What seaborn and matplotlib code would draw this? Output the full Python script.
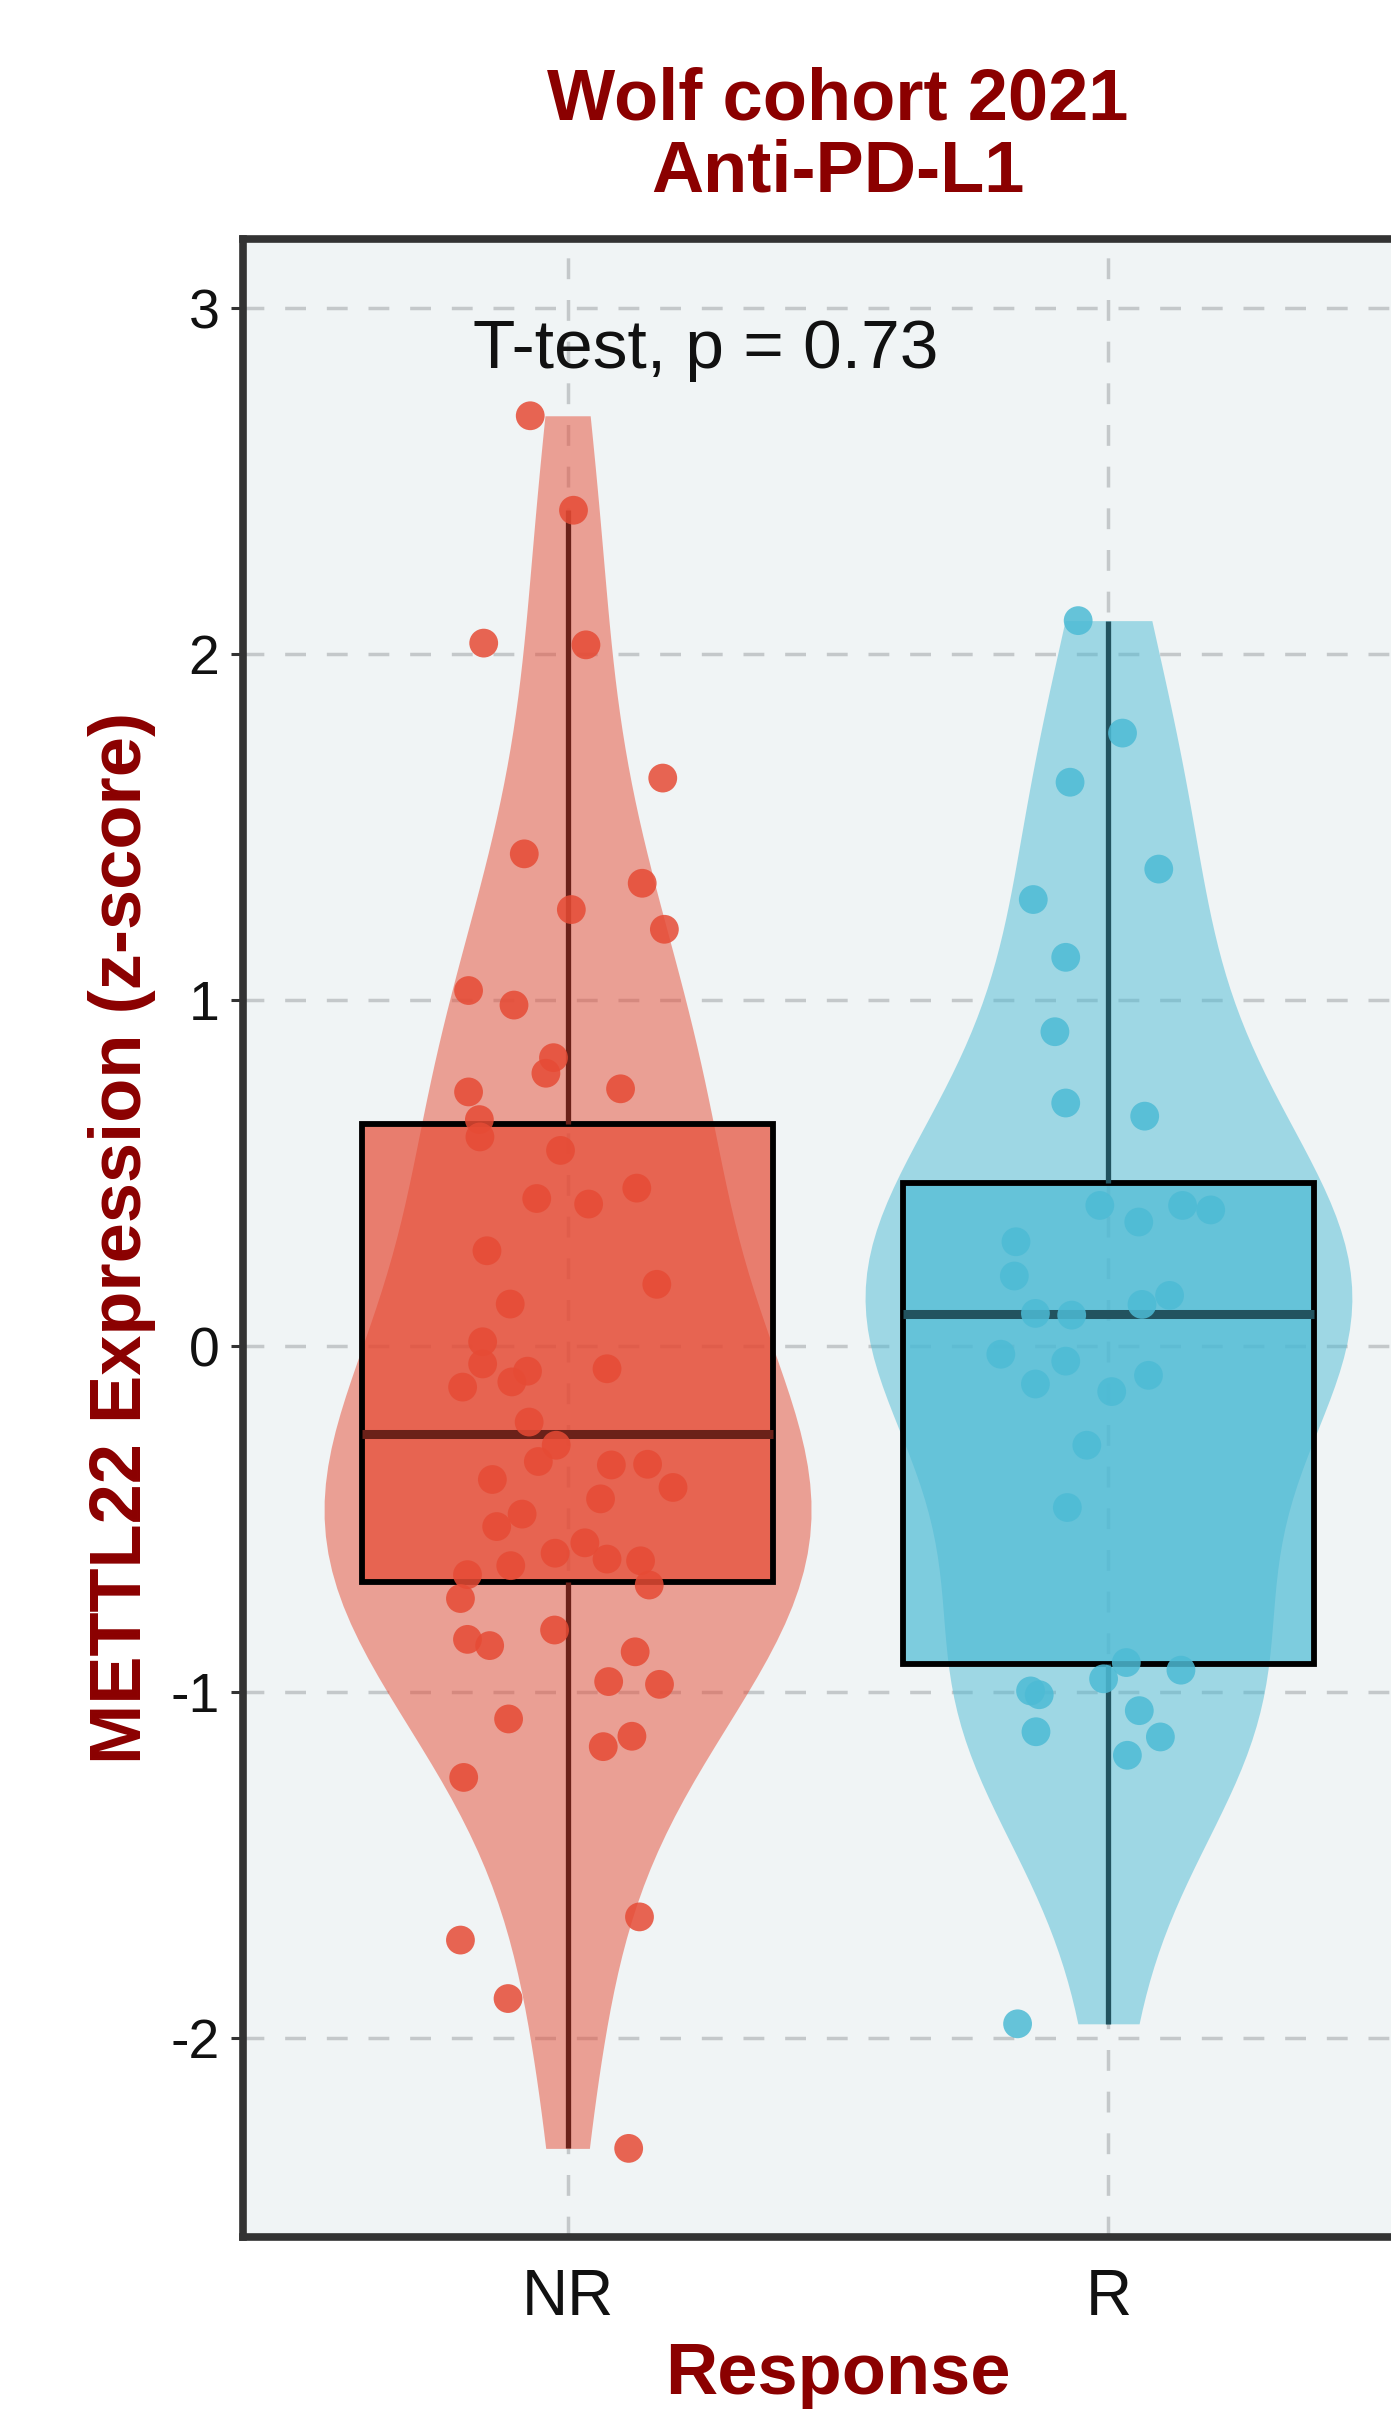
import numpy as np
import pandas as pd
import matplotlib.pyplot as plt
import seaborn as sns

# groups and colours
groups = ['NR', 'R']
colors = {'NR': '#E64B35', 'R': '#4DBBD5'}
dark = {'NR': '#6B2119', 'R': '#22535F'}

# METTL22 z-scores, with their horizontal jitter
nr_values = [2.689, 2.416, 2.032, 2.027, 1.642, 1.423, 1.338, 1.262, 1.205, 1.028,
             0.986, 0.834, 0.789, 0.735, 0.744, 0.655, 0.605, 0.566, 0.457, 0.427,
             0.411, 0.276, 0.179, 0.122, 0.013, -0.051, -0.072, -0.103, -0.118, -0.065,
             -0.219, -0.286, -0.333, -0.343, -0.341, -0.385, -0.408, -0.441, -0.485, -0.521,
             -0.568, -0.598, -0.615, -0.620, -0.660, -0.634, -0.690, -0.729, -0.847, -0.865,
             -0.820, -0.883, -0.969, -0.977, -1.077, -1.127, -1.157, -1.246, -1.649, -1.716,
             -1.885, -2.318]
nr_jitter = [-0.069, 0.011, -0.155, 0.034, 0.176, -0.080, 0.138, 0.007, 0.179, -0.183,
             -0.099, -0.026, -0.040, -0.183, 0.098, -0.163, -0.162, -0.013, 0.128, -0.057,
             0.039, -0.149, 0.165, -0.106, -0.157, -0.157, -0.074, -0.103, -0.194, 0.073,
             -0.071, -0.021, -0.054, 0.081, 0.148, -0.139, 0.195, 0.061, -0.084, -0.131,
             0.032, -0.023, 0.073, 0.135, -0.185, -0.105, 0.151, -0.198, -0.185, -0.144,
             -0.024, 0.125, 0.076, 0.170, -0.109, 0.119, 0.066, -0.192, 0.133, -0.198,
             -0.110, 0.113]

r_values = [2.097, 1.772, 1.630, 1.379, 1.291, 1.124, 0.909, 0.703, 0.665, 0.407,
            0.359, 0.407, 0.394, 0.302, 0.203, 0.147, 0.121, 0.095, 0.090, -0.023,
            -0.043, -0.084, -0.109, -0.131, -0.286, -0.466, -0.914, -0.961, -0.936, -0.996,
            -1.007, -1.053, -1.114, -1.129, -1.182, -1.958]
r_jitter = [-0.056, 0.026, -0.071, 0.093, -0.139, -0.079, -0.099, -0.079, 0.067, -0.016,
            0.056, 0.137, 0.189, -0.171, -0.174, 0.113, 0.062, -0.135, -0.068, -0.199,
            -0.079, 0.074, -0.135, 0.006, -0.040, -0.076, 0.033, -0.009, 0.134, -0.144,
            -0.128, 0.057, -0.134, 0.096, 0.035, -0.168]

y_ticks = [-2, -1, 0, 1, 2, 3]
p_label = 'T-test, p = 0.73'

df = pd.DataFrame({
    'Response': ['NR'] * len(nr_values) + ['R'] * len(r_values),
    'Expression': nr_values + r_values,
    'jitter': nr_jitter + r_jitter,
})
df['xpos'] = df['Response'].map({g: i for i, g in enumerate(groups)}) + df['jitter']

sns.set_theme(style='whitegrid')
plt.rcParams['font.family'] = ['Liberation Sans', 'DejaVu Sans']
plt.rcParams['axes.unicode_minus'] = False

fig = plt.figure(figsize=(13.91, 24.16), dpi=100)
ax = fig.add_axes([0.1747, 0.0741, 0.8555, 0.827])
ax.set_facecolor('#F0F4F5')
ax.set_axisbelow(True)

# violins
sns.violinplot(data=df, x='Response', y='Expression', hue='Response', order=groups,
               hue_order=groups, palette=colors, cut=0, inner=None, density_norm='width',
               width=0.9, linewidth=0, saturation=1, alpha=0.5, bw_method='scott',
               bw_adjust=0.95, legend=False, ax=ax)

# boxes
sns.boxplot(data=df, x='Response', y='Expression', hue='Response', order=groups,
            hue_order=groups, palette=colors, width=0.76, showcaps=False, showfliers=False,
            saturation=1, linecolor='black', linewidth=4.2, legend=False, ax=ax,
            medianprops={'linewidth': 6.5}, whiskerprops={'linewidth': 3.8})
for patch in ax.patches:
    fc = patch.get_facecolor()
    patch.set_facecolor((fc[0], fc[1], fc[2], 0.7))
for line in ax.lines:
    g = 'NR' if np.mean(line.get_xdata()) < 0.5 else 'R'
    line.set_color(dark[g])

# jittered points
sns.scatterplot(data=df, x='xpos', y='Expression', hue='Response', palette=colors,
                s=430, alpha=0.85, linewidth=0, legend=False, ax=ax, zorder=3)

ax.text(-0.174, 2.88, p_label, ha='left', va='center', fontsize=50, color='#111111')

ax.set_xlim(-0.6, 1.6)
ax.set_ylim(-2.574, 3.2)
ax.set_xticks(range(len(groups)))
ax.set_xticklabels(groups)
ax.set_yticks(y_ticks)
ax.set_yticklabels([str(t) for t in y_ticks])

ax.grid(True, color='#C4C8CA', linestyle=(0, (6, 6)), linewidth=2.5)
for side in ['left', 'right', 'top', 'bottom']:
    ax.spines[side].set_visible(True)
    ax.spines[side].set_color('#333333')
    ax.spines[side].set_linewidth(5.5)

ax.tick_params(axis='y', left=True, length=9, width=2.2, color='#333333',
               labelsize=40, pad=8, labelcolor='#111111')
ax.tick_params(axis='x', bottom=True, length=0, labelsize=46, pad=22, labelcolor='#111111')

ax.set_xlabel('Response', fontsize=52, fontweight='bold', color='#8B0000', labelpad=10)
ax.set_ylabel('METTL22 Expression (z-score)', fontsize=52, fontweight='bold',
              color='#8B0000', labelpad=10)
ax.set_title('Wolf cohort 2021\nAnti-PD-L1', fontsize=52, fontweight='bold',
             color='#8B0000', linespacing=1.08, pad=34)

fig.savefig('out.png', dpi=100)
